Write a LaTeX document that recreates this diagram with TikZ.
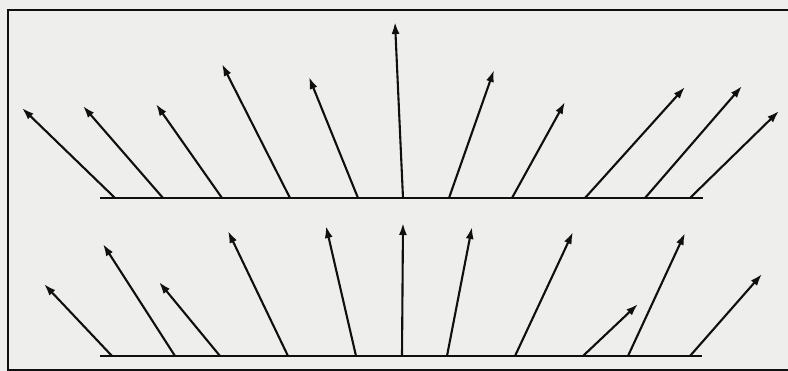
\documentclass[tikz,border=0pt]{standalone}
\usetikzlibrary{arrows.meta}
\definecolor{paper}{RGB}{238,238,236}
\definecolor{ink}{RGB}{15,15,15}
\begin{document}
\begin{tikzpicture}[x=1pt,y=-1pt,
  ray/.style={draw=ink,line width=2.1pt,-{Latex[length=12pt,width=8pt]}},
  base/.style={draw=ink,line width=2.6pt},
  frame/.style={draw=ink,line width=2.6pt}]
\fill[paper] (0,0) rectangle (788,371);
\useasboundingbox (0,0) rectangle (788,371);
% frame (open at the right)
\coordinate (fTR) at (790,10);
\coordinate (fTL) at (8,10);
\coordinate (fBL) at (8,370);
\coordinate (fBR) at (790,370);
\draw[frame] (fTR) -- (fTL) -- (fBL) -- (fBR);
% baselines
\coordinate (uL) at (100,198);
\coordinate (uR) at (703,198);
\coordinate (lL) at (100,356);
\coordinate (lR) at (702,356);
\draw[base] (uL) -- (uR);
\draw[base] (lL) -- (lR);
% upper rays
\foreach \i/\bx/\tx/\ty in {1/115/22/108, 2/163/83/106, 3/222/156/104, 4/290/222/64,
  5/358/309/77, 6/403/395/22, 7/449/494/70, 8/512/565/102, 9/585/685/87,
  10/645/742/86, 11/690/779/111}{
  \coordinate (ub\i) at (\bx,198);
  \coordinate (ut\i) at (\tx,\ty);
  \draw[ray] (ub\i) -- (ut\i);
}
% lower rays
\foreach \i/\bx/\tx/\ty in {1/112/44/284, 2/175/103/244, 3/220/159/282, 4/288/228/231,
  5/356/326/226, 6/402/403/223, 7/447/472/227, 8/515/573/232, 9/583/638/304,
  10/628/685/233, 11/690/762/274}{
  \coordinate (lb\i) at (\bx,356);
  \coordinate (lt\i) at (\tx,\ty);
  \draw[ray] (lb\i) -- (lt\i);
}
\end{tikzpicture}
\end{document}
